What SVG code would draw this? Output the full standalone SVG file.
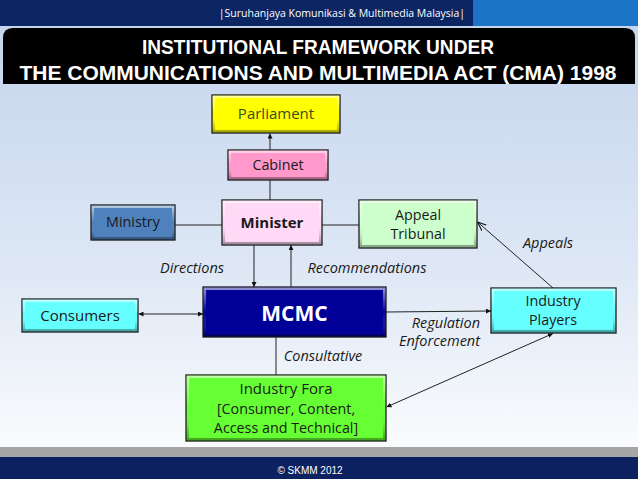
<svg xmlns="http://www.w3.org/2000/svg" width="638" height="479" viewBox="0 0 638 479">
<defs>
  <linearGradient id="bg" x1="0" y1="0" x2="0" y2="1">
    <stop offset="0" stop-color="#c3d3ec"/>
    <stop offset="0.55" stop-color="#dde7f5"/>
    <stop offset="1" stop-color="#ffffff"/>
  </linearGradient>
  <linearGradient id="bevel" x1="0" y1="0" x2="0" y2="1">
    <stop offset="0" stop-color="#ffffff" stop-opacity="0.55"/>
    <stop offset="0.5" stop-color="#ffffff" stop-opacity="0"/>
    <stop offset="1" stop-color="#000000" stop-opacity="0.35"/>
  </linearGradient>
  <marker id="arr" viewBox="0 0 10 10" refX="10" refY="5" markerWidth="5" markerHeight="5" orient="auto-start-reverse" markerUnits="userSpaceOnUse">
    <path d="M0,0 L10,5 L0,10 z" fill="#111"/>
  </marker>
  <marker id="arrOpen" viewBox="0 0 10 10" refX="10" refY="5" markerWidth="9" markerHeight="9" orient="auto-start-reverse" markerUnits="userSpaceOnUse">
    <path d="M0,1 L10,5 L0,9" fill="none" stroke="#111" stroke-width="1.2"/>
  </marker>
</defs>
<style>
  .box { stroke: #1a1a1a; stroke-width: 1.3; }
  .bev { fill: none; stroke: url(#bevel); stroke-width: 2.5; }
  .t { font-family: "Open Sans", "Liberation Sans", sans-serif; font-size: 14.3px; fill: #1a1a1a; text-anchor: middle; }
  .lbl { font-family: "Open Sans", "Liberation Sans", sans-serif; font-size: 14.5px; font-style: italic; fill: #1a1a1a; }
  .c { stroke: #222; stroke-width: 1; fill: none; }
</style>

<!-- background -->
<rect x="0" y="0" width="638" height="479" fill="url(#bg)"/>
<rect x="0" y="0" width="473" height="26" fill="#0c2563"/>
<rect x="473" y="0" width="165" height="26" fill="#1c74c6"/>
<text x="342" y="17" font-family="Open Sans, Liberation Sans, sans-serif" font-size="10.5" fill="#ffffff" text-anchor="middle">|Suruhanjaya Komunikasi &amp; Multimedia Malaysia|</text>
<path d="M3,84 L3,38 Q3,28 13,28 L625,28 Q635,28 635,38 L635,84 Z" fill="#000000"/>
<text x="318" y="54" font-family="Liberation Sans, Arial, sans-serif" font-weight="bold" font-size="20" fill="#ffffff" text-anchor="middle" textLength="352" lengthAdjust="spacingAndGlyphs">INSTITUTIONAL FRAMEWORK UNDER</text>
<text x="318" y="80" font-family="Liberation Sans, Arial, sans-serif" font-weight="bold" font-size="20" fill="#ffffff" text-anchor="middle" textLength="597" lengthAdjust="spacingAndGlyphs">THE COMMUNICATIONS AND MULTIMEDIA ACT (CMA) 1998</text>

<!-- footer -->
<rect x="0" y="447" width="638" height="10" fill="#a6a6a6"/>
<rect x="0" y="457" width="638" height="22" fill="#0c2260"/>
<text x="310" y="474" font-family="Liberation Sans, Arial, sans-serif" font-size="10" fill="#ffffff" text-anchor="middle">© SKMM 2012</text>

<!-- connectors -->
<g id="connectors">
  <line class="c" x1="270" y1="150" x2="270" y2="133.5" marker-end="url(#arr)"/>
  <line class="c" x1="270" y1="180" x2="270" y2="200"/>
  <line class="c" x1="175" y1="225" x2="222" y2="225"/>
  <line class="c" x1="322" y1="225" x2="359" y2="225"/>
  <line class="c" x1="254" y1="245" x2="254" y2="287" marker-end="url(#arr)"/>
  <line class="c" x1="291" y1="287" x2="291" y2="245" marker-end="url(#arr)"/>
  <line class="c" x1="138.5" y1="314" x2="203" y2="314" marker-start="url(#arr)" marker-end="url(#arr)"/>
  <line class="c" x1="386" y1="312" x2="491" y2="311" marker-end="url(#arr)"/>
  <line class="c" x1="553" y1="288" x2="477.5" y2="222" marker-end="url(#arrOpen)"/>
  <line class="c" x1="276" y1="337" x2="276" y2="375"/>
  <line class="c" x1="386.5" y1="407" x2="553" y2="333.5" marker-start="url(#arr)" marker-end="url(#arr)"/>
  <text class="lbl" x="192" y="273" text-anchor="middle">Directions</text>
  <text class="lbl" x="367" y="273" text-anchor="middle">Recommendations</text>
  <text class="lbl" x="548" y="248" text-anchor="middle">Appeals</text>
  <text class="lbl" x="480" y="328" text-anchor="end">Regulation</text>
  <text class="lbl" x="480" y="346" text-anchor="end">Enforcement</text>
  <text class="lbl" x="323" y="361" text-anchor="middle">Consultative</text>
</g>

<!-- nodes -->
<g id="parliament">
  <rect class="box" x="212" y="95" width="128" height="38" fill="#ffff00"/>
  <rect class="bev" x="213.8" y="96.8" width="124.4" height="34.4"/>
  <text class="t" x="276" y="119" style="fill:#3d4a1c;font-size:15px">Parliament</text>
</g>
<g id="cabinet">
  <rect class="box" x="228" y="150" width="100" height="30" fill="#ff99cc"/>
  <rect class="bev" x="229.8" y="151.8" width="96.4" height="26.4"/>
  <text class="t" x="278" y="170">Cabinet</text>
</g>
<g id="minister">
  <rect class="box" x="222" y="200" width="100" height="45" fill="#ffd9f6"/>
  <rect class="bev" x="223.8" y="201.8" width="96.4" height="41.4"/>
  <text class="t" x="272" y="228" style="font-size:15px;font-weight:bold">Minister</text>
</g>
<g id="ministry">
  <rect class="box" x="91" y="205" width="84" height="35" fill="#4f81bd"/>
  <rect class="bev" x="92.8" y="206.8" width="80.4" height="31.4"/>
  <text class="t" x="133" y="227">Ministry</text>
</g>
<g id="appeal-tribunal">
  <rect class="box" x="359" y="200" width="118" height="48" fill="#ccffcc"/>
  <rect class="bev" x="360.8" y="201.8" width="114.4" height="44.4"/>
  <text class="t" x="418" y="220">Appeal</text>
  <text class="t" x="418" y="239">Tribunal</text>
</g>
<g id="mcmc">
  <rect class="box" x="203" y="287" width="183" height="50" fill="#000099"/>
  <rect class="bev" x="204.8" y="288.8" width="179.4" height="46.4"/>
  <text x="294.5" y="320.5" font-family="Open Sans, Liberation Sans, sans-serif" font-weight="bold" font-size="21" fill="#ffffff" text-anchor="middle">MCMC</text>
</g>
<g id="consumers">
  <rect class="box" x="22" y="299" width="116" height="33" fill="#66ffff"/>
  <rect class="bev" x="23.8" y="300.8" width="112.4" height="29.4"/>
  <text class="t" x="80" y="321" style="font-size:15px">Consumers</text>
</g>
<g id="industry-players">
  <rect class="box" x="491" y="288" width="125" height="45" fill="#66ffff"/>
  <rect class="bev" x="492.8" y="289.8" width="121.4" height="41.4"/>
  <text class="t" x="553" y="306">Industry</text>
  <text class="t" x="553" y="325">Players</text>
</g>
<g id="industry-fora">
  <rect class="box" x="186" y="375" width="200" height="66" fill="#66ff33"/>
  <rect class="bev" x="187.8" y="376.8" width="196.4" height="62.4"/>
  <text class="t" x="286" y="394" style="font-size:15px">Industry Fora</text>
  <text class="t" x="286" y="414">[Consumer, Content,</text>
  <text class="t" x="286" y="433">Access and Technical]</text>
</g>
</svg>
